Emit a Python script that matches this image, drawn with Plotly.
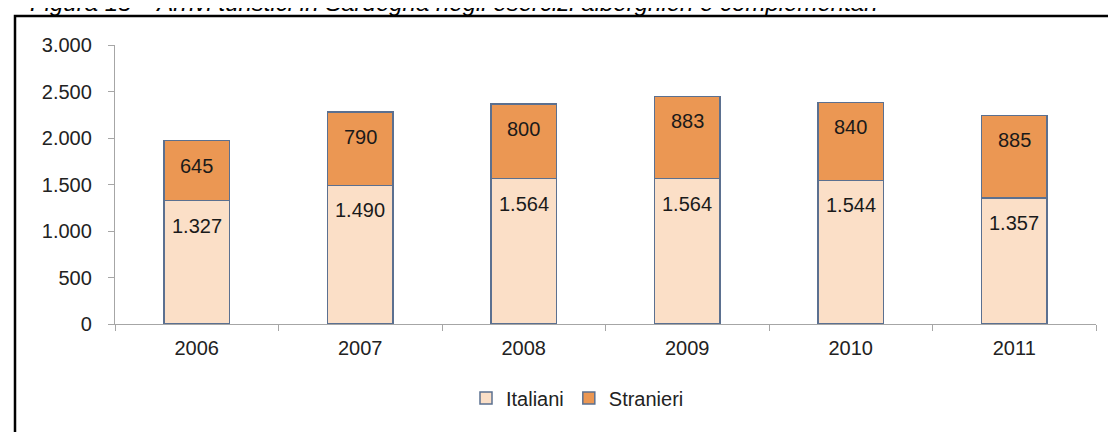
import plotly.graph_objects as go

anni = ["2006", "2007", "2008", "2009", "2010", "2011"]
italiani = [1327, 1490, 1564, 1564, 1544, 1357]
stranieri = [645, 790, 800, 883, 840, 885]
titolo = "Figura 15 – Arrivi turistici in Sardegna negli esercizi alberghieri e complementari"

FONT = "Arial, 'Liberation Sans', sans-serif"
W, H = 1116, 432
L, R, T, B = 107, 28, 37, 116
pw, ph = W - L - R, H - T - B

def px(x):
    return (x - L) / pw

def py(y):
    return (H - B - y) / ph

def fmt(v):
    return f"{v:,}".replace(",", ".")

fig = go.Figure()
fig.add_bar(x=anni, y=italiani, name="Italiani",
            marker=dict(color="#FBDFC7", line=dict(color="#5B7090", width=1.5)))
fig.add_bar(x=anni, y=stranieri, name="Stranieri",
            marker=dict(color="#EB9753", line=dict(color="#5B7090", width=1.5)))

ann = []
for k, (i, s) in enumerate(zip(italiani, stranieri)):
    ann.append(dict(x=k, y=i, text=fmt(i), showarrow=False, yanchor="middle",
                    yshift=-25, font=dict(family=FONT, size=20, color="#1a1a1a")))
    ann.append(dict(x=k, y=i + s, text=fmt(s), showarrow=False, yanchor="middle",
                    yshift=-25, font=dict(family=FONT, size=20, color="#1a1a1a")))
ann.append(dict(xref="paper", yref="paper", x=px(20), y=py(-5), xanchor="left",
                yanchor="middle", text="<i>" + titolo + "</i>", showarrow=False,
                font=dict(family=FONT, size=24, color="#000")))

fig.update_layout(
    width=W, height=H,
    margin=dict(l=L, r=R, t=T, b=B),
    paper_bgcolor="white", plot_bgcolor="white",
    barmode="stack", bargap=0.6,
    separators=",.",
    font=dict(family=FONT, size=20, color="#222"),
    annotations=ann,
    showlegend=True,
    legend=dict(orientation="h", x=0.5 - 28 / pw, xanchor="center", y=py(390),
                yanchor="middle", font=dict(family=FONT, size=20, color="#222"),
                itemwidth=30, traceorder="normal"),
    shapes=[dict(type="rect", xref="paper", yref="paper",
                 x0=px(7), x1=px(W + 50), y0=py(H + 50), y1=py(8),
                 line=dict(color="black", width=2.5), fillcolor="rgba(0,0,0,0)")],
    xaxis=dict(type="category", range=[-0.5, len(anni) - 0.5], showline=True,
               linecolor="#A6A6A6", linewidth=1.3,
               ticks="outside", tickson="boundaries", ticklen=6, tickcolor="#A6A6A6",
               ticklabelstandoff=6, showgrid=False,
               tickfont=dict(family=FONT, size=20, color="#222")),
    yaxis=dict(range=[0, 3000], dtick=500, tickformat=",.0f", showline=True,
               linecolor="#A6A6A6", linewidth=1.3, ticks="outside", ticklen=6,
               tickcolor="#A6A6A6", showgrid=False, zeroline=False,
               ticklabelstandoff=12,
               tickfont=dict(family=FONT, size=20, color="#222")),
)

fig.write_html("out.html")
